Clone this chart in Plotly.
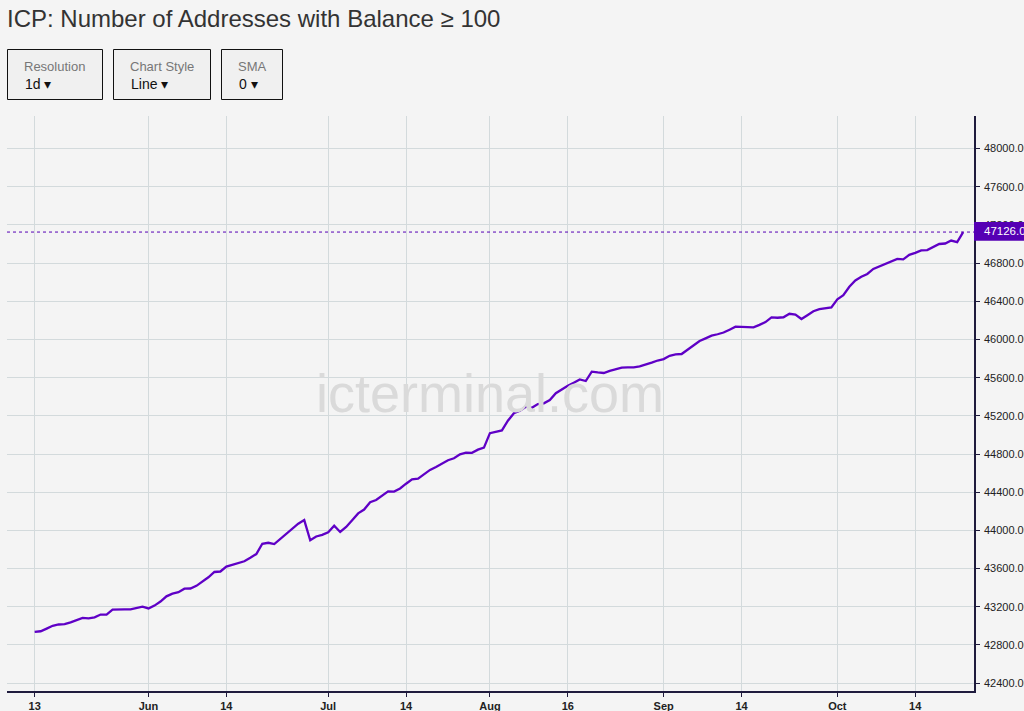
import pandas as pd
import plotly.graph_objects as go

# ---------------- data ----------------
start_day = "2023-05-13"
end_day = "2023-10-22"
missing_days = ["2023-07-22", "2023-07-23", "2023-07-29", "2023-07-30",
                "2023-08-05", "2023-08-12", "2023-09-24"]

addresses = [
    42936, 42943, 42971, 43000, 43014, 43017, 43037, 43062, 43084, 43078,
    43089, 43118, 43118, 43170, 43175, 43173, 43172, 43189, 43201, 43182,
    43212, 43254, 43309, 43337, 43352, 43389, 43391, 43419, 43462, 43509,
    43564, 43569, 43620, 43641, 43661, 43676, 43713, 43752, 43860, 43870,
    43856, 43908, 43961, 44021, 44070, 44108, 43897, 43936, 43953, 43980,
    44049, 43983, 44036, 44107, 44178, 44218, 44295, 44318, 44368, 44409,
    44406, 44439, 44489, 44535, 44543, 44589, 44634, 44665, 44702, 44735,
    44756, 44797, 44814, 44813, 44846, 44867, 45019, 45033, 45048, 45149,
    45228, 45255, 45296, 45284, 45323, 45331, 45366, 45437, 45478, 45515,
    45548, 45581, 45565, 45663, 45655, 45649, 45671, 45692, 45705, 45708,
    45708, 45718, 45735, 45758, 45780, 45795, 45829, 45844, 45848, 45893,
    45938, 45984, 46012, 46040, 46055, 46073, 46103, 46134, 46132, 46128,
    46127, 46153, 46183, 46232, 46228, 46233, 46270, 46262, 46215, 46255,
    46297, 46318, 46327, 46336, 46422, 46464, 46553, 46619, 46657, 46687,
    46739, 46764, 46787, 46817, 46844, 46840, 46887, 46908, 46934, 46937,
    46966, 47001, 47006, 47037, 47021, 47126,
]

tick_dates = ["2023-05-13", "2023-06-01", "2023-06-14", "2023-07-01", "2023-07-14",
              "2023-08-01", "2023-08-16", "2023-09-01", "2023-09-14", "2023-10-01",
              "2023-10-14"]
tick_labels = ["13", "Jun", "14", "Jul", "14", "Aug", "16", "Sep", "14", "Oct", "14"]

title_text = "ICP: Number of Addresses with Balance \u2265 100"
controls = [("Resolution", "1d"), ("Chart Style", "Line"), ("SMA", "0")]
last_value = addresses[-1]

dates = [d.strftime("%Y-%m-%d") for d in pd.date_range(start_day, end_day, freq="D")
         if d.strftime("%Y-%m-%d") not in missing_days]

# ---------------- layout geometry ----------------
W, H = 1024, 711
ML, MR, MT, MB = 7, 50, 116, 20
PW, PH = W - ML - MR, H - MT - MB


def px(x):
    return (x - ML) / PW


def py(y):
    return (H - MB - y) / PH


LINE_COLOR = "#5f00c6"
LABEL_COLOR = "#5600b4"
GRID = "#d3dadc"
AXIS = "#1f1b3d"
BG = "#f4f4f4"
FONT = "Liberation Sans, Arial, sans-serif"

fig = go.Figure()
fig.add_trace(go.Scatter(
    x=dates, y=addresses, mode="lines",
    line=dict(color=LINE_COLOR, width=2.3),
    hoverinfo="x+y", showlegend=False,
))

shapes = []
annotations = []

# watermark
annotations.append(dict(
    text="icterminal.com", x=px(490), y=py(393), xref="paper", yref="paper",
    xanchor="center", yanchor="middle", showarrow=False,
    font=dict(family=FONT, size=54, color="#dadada"),
))

# title
annotations.append(dict(
    text=title_text, x=px(5), y=py(18.5), xref="paper", yref="paper",
    xanchor="left", yanchor="middle", showarrow=False,
    font=dict(family=FONT, size=24, color="#333333"),
))

# control boxes
boxes = [(7.5, 102.5), (113.5, 210.5), (221.5, 282.5)]
for (label, value), (x0, x1) in zip(controls, boxes):
    shapes.append(dict(type="rect", xref="paper", yref="paper",
                       x0=px(x0), x1=px(x1), y0=py(49.5), y1=py(99.5),
                       line=dict(color="#111111", width=1), fillcolor="#f0f0f0"))
    annotations.append(dict(
        text=label, x=px(x0 + 14.5), y=py(67), xref="paper", yref="paper",
        xanchor="left", yanchor="middle", showarrow=False,
        font=dict(family=FONT, size=13, color="#777777"),
    ))
    annotations.append(dict(
        text=value + " \u25BE", x=px(x0 + 15), y=py(83.5), xref="paper", yref="paper",
        xanchor="left", yanchor="middle", showarrow=False,
        font=dict(family=FONT, size=14, color="#111111"),
    ))

# last price line + label
shapes.append(dict(type="line", xref="paper", yref="y", x0=0, x1=1,
                   y0=last_value, y1=last_value,
                   line=dict(color=LABEL_COLOR, width=1, dash="dot"), layer="above"))
shapes.append(dict(type="rect", xref="paper", yref="paper",
                   x0=px(974), x1=px(1030), y0=py(222), y1=py(240.7),
                   line=dict(width=0), fillcolor=LABEL_COLOR, layer="above"))
annotations.append(dict(
    text=f"{last_value:.2f}", x=px(982), y=py(231.3), xref="paper", yref="paper",
    xanchor="left", yanchor="middle", showarrow=False,
    font=dict(family=FONT, size=11.5, color="#ffffff"),
))

fig.update_layout(
    width=W, height=H,
    margin=dict(l=ML, r=MR, t=MT, b=MB, pad=0, autoexpand=False),
    paper_bgcolor=BG, plot_bgcolor=BG,
    shapes=shapes, annotations=annotations,
    font=dict(family=FONT, size=11, color="#222222"),
    hovermode="closest",
)

fig.update_xaxes(
    type="category", range=[-4.62, 156.81], automargin=False,
    tickmode="array", tickvals=tick_dates, ticktext=tick_labels,
    showgrid=True, gridcolor=GRID, gridwidth=1,
    showline=True, linecolor=AXIS, linewidth=1.5,
    ticks="outside", ticklen=4, tickcolor=AXIS,
    tickfont=dict(family=FONT, size=11, color="#222222", weight="bold"),
    zeroline=False, fixedrange=True,
)
fig.update_yaxes(
    side="right", range=[42317, 48342], automargin=False,
    tick0=0, dtick=400, tickformat=".2f",
    showgrid=True, gridcolor=GRID, gridwidth=1,
    showline=True, linecolor=AXIS, linewidth=1.5,
    ticks="outside", ticklen=4, tickcolor=AXIS, ticklabelstandoff=2,
    tickfont=dict(family=FONT, size=11, color="#222222"),
    zeroline=False, fixedrange=True,
)

fig.write_html(
    "out.html",
    config={"displayModeBar": False},
    post_script="document.body.style.margin='0';document.body.style.overflow='hidden';",
)
